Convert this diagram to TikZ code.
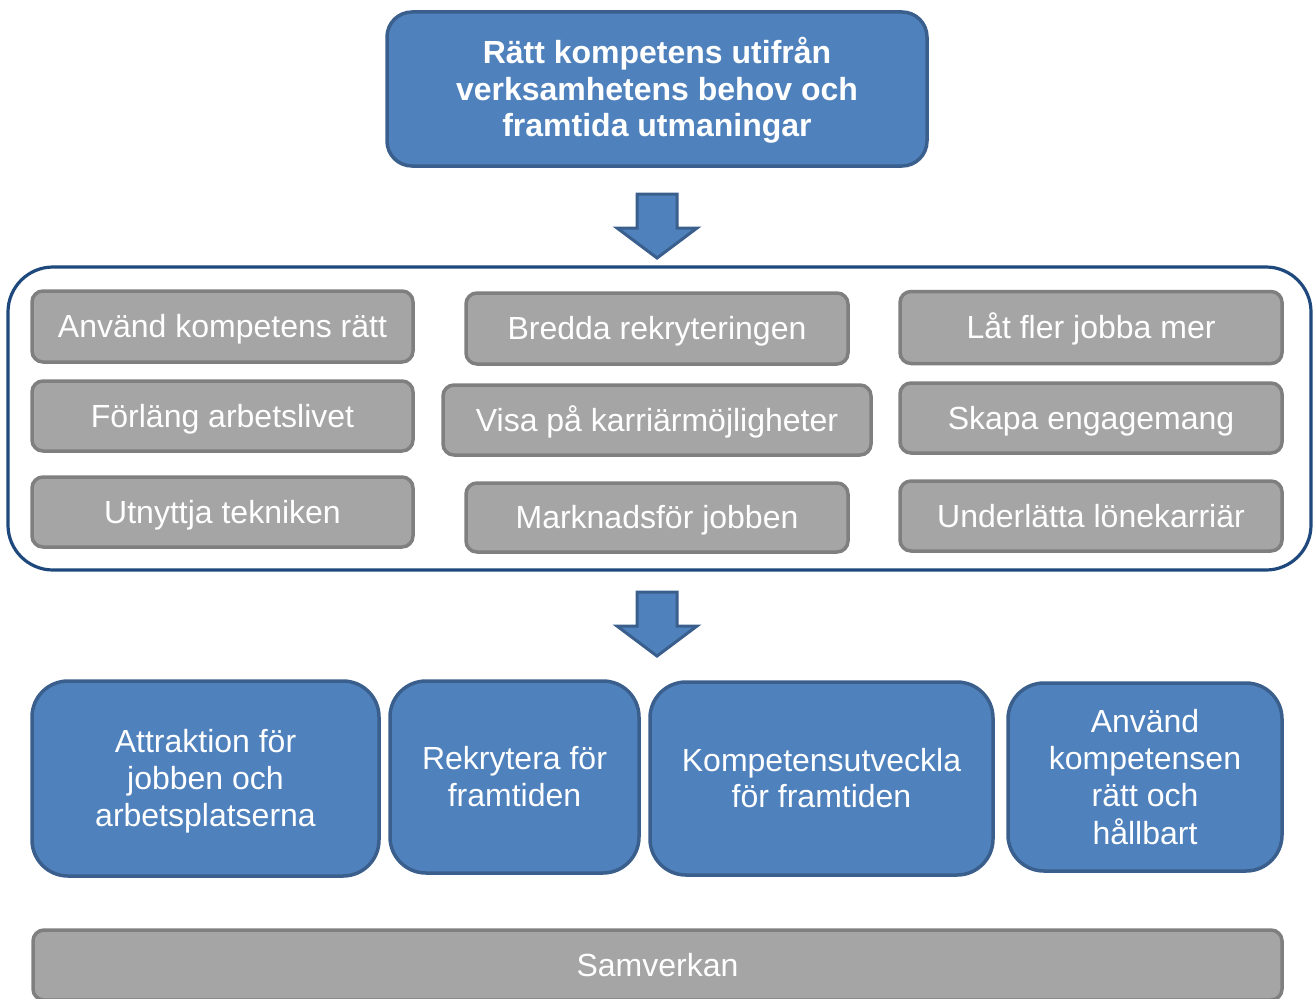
\documentclass[tikz,border=0pt]{standalone}
\usepackage{fontspec}
\setmainfont{Liberation Sans}
\definecolor{bfill}{HTML}{4F81BD}
\definecolor{bline}{HTML}{3A5F8D}
\definecolor{gfill}{HTML}{A5A5A5}
\definecolor{gline}{HTML}{7F7F7F}
\definecolor{cline}{HTML}{1F497D}
\newcommand\ls{\rule[-6.8pt]{0pt}{35.8pt}}
\begin{document}
\begin{tikzpicture}[x=1pt,y=-1pt,
  boxtext/.style={text=white, align=center, inner sep=0pt},
  bluebox/.style={boxtext, draw=bline, fill=bfill, line width=3.5pt,
    font=\fontsize{32}{36.7}\selectfont},
  topbox/.style={bluebox, rounded corners=25pt, font=\bfseries\fontsize{32}{36.5}\selectfont},
  botbox/.style={bluebox, rounded corners=36pt},
  graybox/.style={boxtext, draw=gline, fill=gfill, line width=3.5pt,
    rounded corners=11pt, font=\fontsize{32}{38}\selectfont,
    execute at begin node=\ls},
  container/.style={draw=cline, line width=3.2pt, rounded corners=45pt},
  blockarrow/.style={draw=bline, fill=bfill, line width=3pt, line join=miter}
]
\useasboundingbox (0,0) rectangle (1313,998);
\clip (0,0) rectangle (1313,998);

% top box
\node[topbox, minimum width=540pt, minimum height=154pt] (top) at (657,89)
  {\ls Rätt kompetens utifrån\\verksamhetens behov och\\framtida utmaningar\ls};

% arrow 1
\draw[blockarrow] (637,194) -- (677,194) -- (677,228) -- (697,228) -- (657,258)
  -- (617,228) -- (637,228) -- cycle;

% container
\draw[container] (8,267) rectangle (1311,570);

% gray boxes
\node[graybox, minimum width=381pt, minimum height=71pt] (g11) at (222.5,326.5) {Använd kompetens rätt};
\node[graybox, minimum width=381pt, minimum height=70pt] (g21) at (222.5,416) {Förläng arbetslivet};
\node[graybox, minimum width=381pt, minimum height=70pt] (g31) at (222.5,512) {Utnyttja tekniken};

\node[graybox, minimum width=382pt, minimum height=71pt] (g12) at (657,328.5) {Bredda rekryteringen};
\node[graybox, minimum width=428pt, minimum height=70pt] (g22) at (657,420) {Visa på karriärmöjligheter};
\node[graybox, minimum width=382pt, minimum height=69pt] (g32) at (657,517.5) {Marknadsför jobben};

\node[graybox, minimum width=382pt, minimum height=72pt] (g13) at (1091,327.5) {Låt fler jobba mer};
\node[graybox, minimum width=382pt, minimum height=70pt] (g23) at (1091,418) {Skapa engagemang};
\node[graybox, minimum width=382pt, minimum height=70pt] (g33) at (1091,516) {Underlätta lönekarriär};

% arrow 2
\draw[blockarrow] (637,592) -- (677,592) -- (677,626) -- (697,626) -- (657,656)
  -- (617,626) -- (637,626) -- cycle;

% bottom boxes
\node[botbox, minimum width=347pt, minimum height=195pt] (b1) at (205.5,778.5)
  {\ls Attraktion för\\jobben och\\arbetsplatserna\ls};
\node[botbox, minimum width=249pt, minimum height=192pt] (b2) at (514.5,777)
  {\ls Rekrytera för\\framtiden\ls};
\node[botbox, minimum width=343pt, minimum height=193pt] (b3) at (821.5,778.5)
  {\ls Kompetensutveckla\\för framtiden\ls};
\node[botbox, minimum width=274pt, minimum height=188pt, font=\fontsize{32}{37.3}\selectfont] (b4) at (1145,777)
  {\ls Använd\\kompetensen\\rätt och\\hållbart\ls};

% samverkan
\node[graybox, minimum width=1249pt, minimum height=70pt] (sam) at (657.5,965) {Samverkan};
\end{tikzpicture}
\end{document}
